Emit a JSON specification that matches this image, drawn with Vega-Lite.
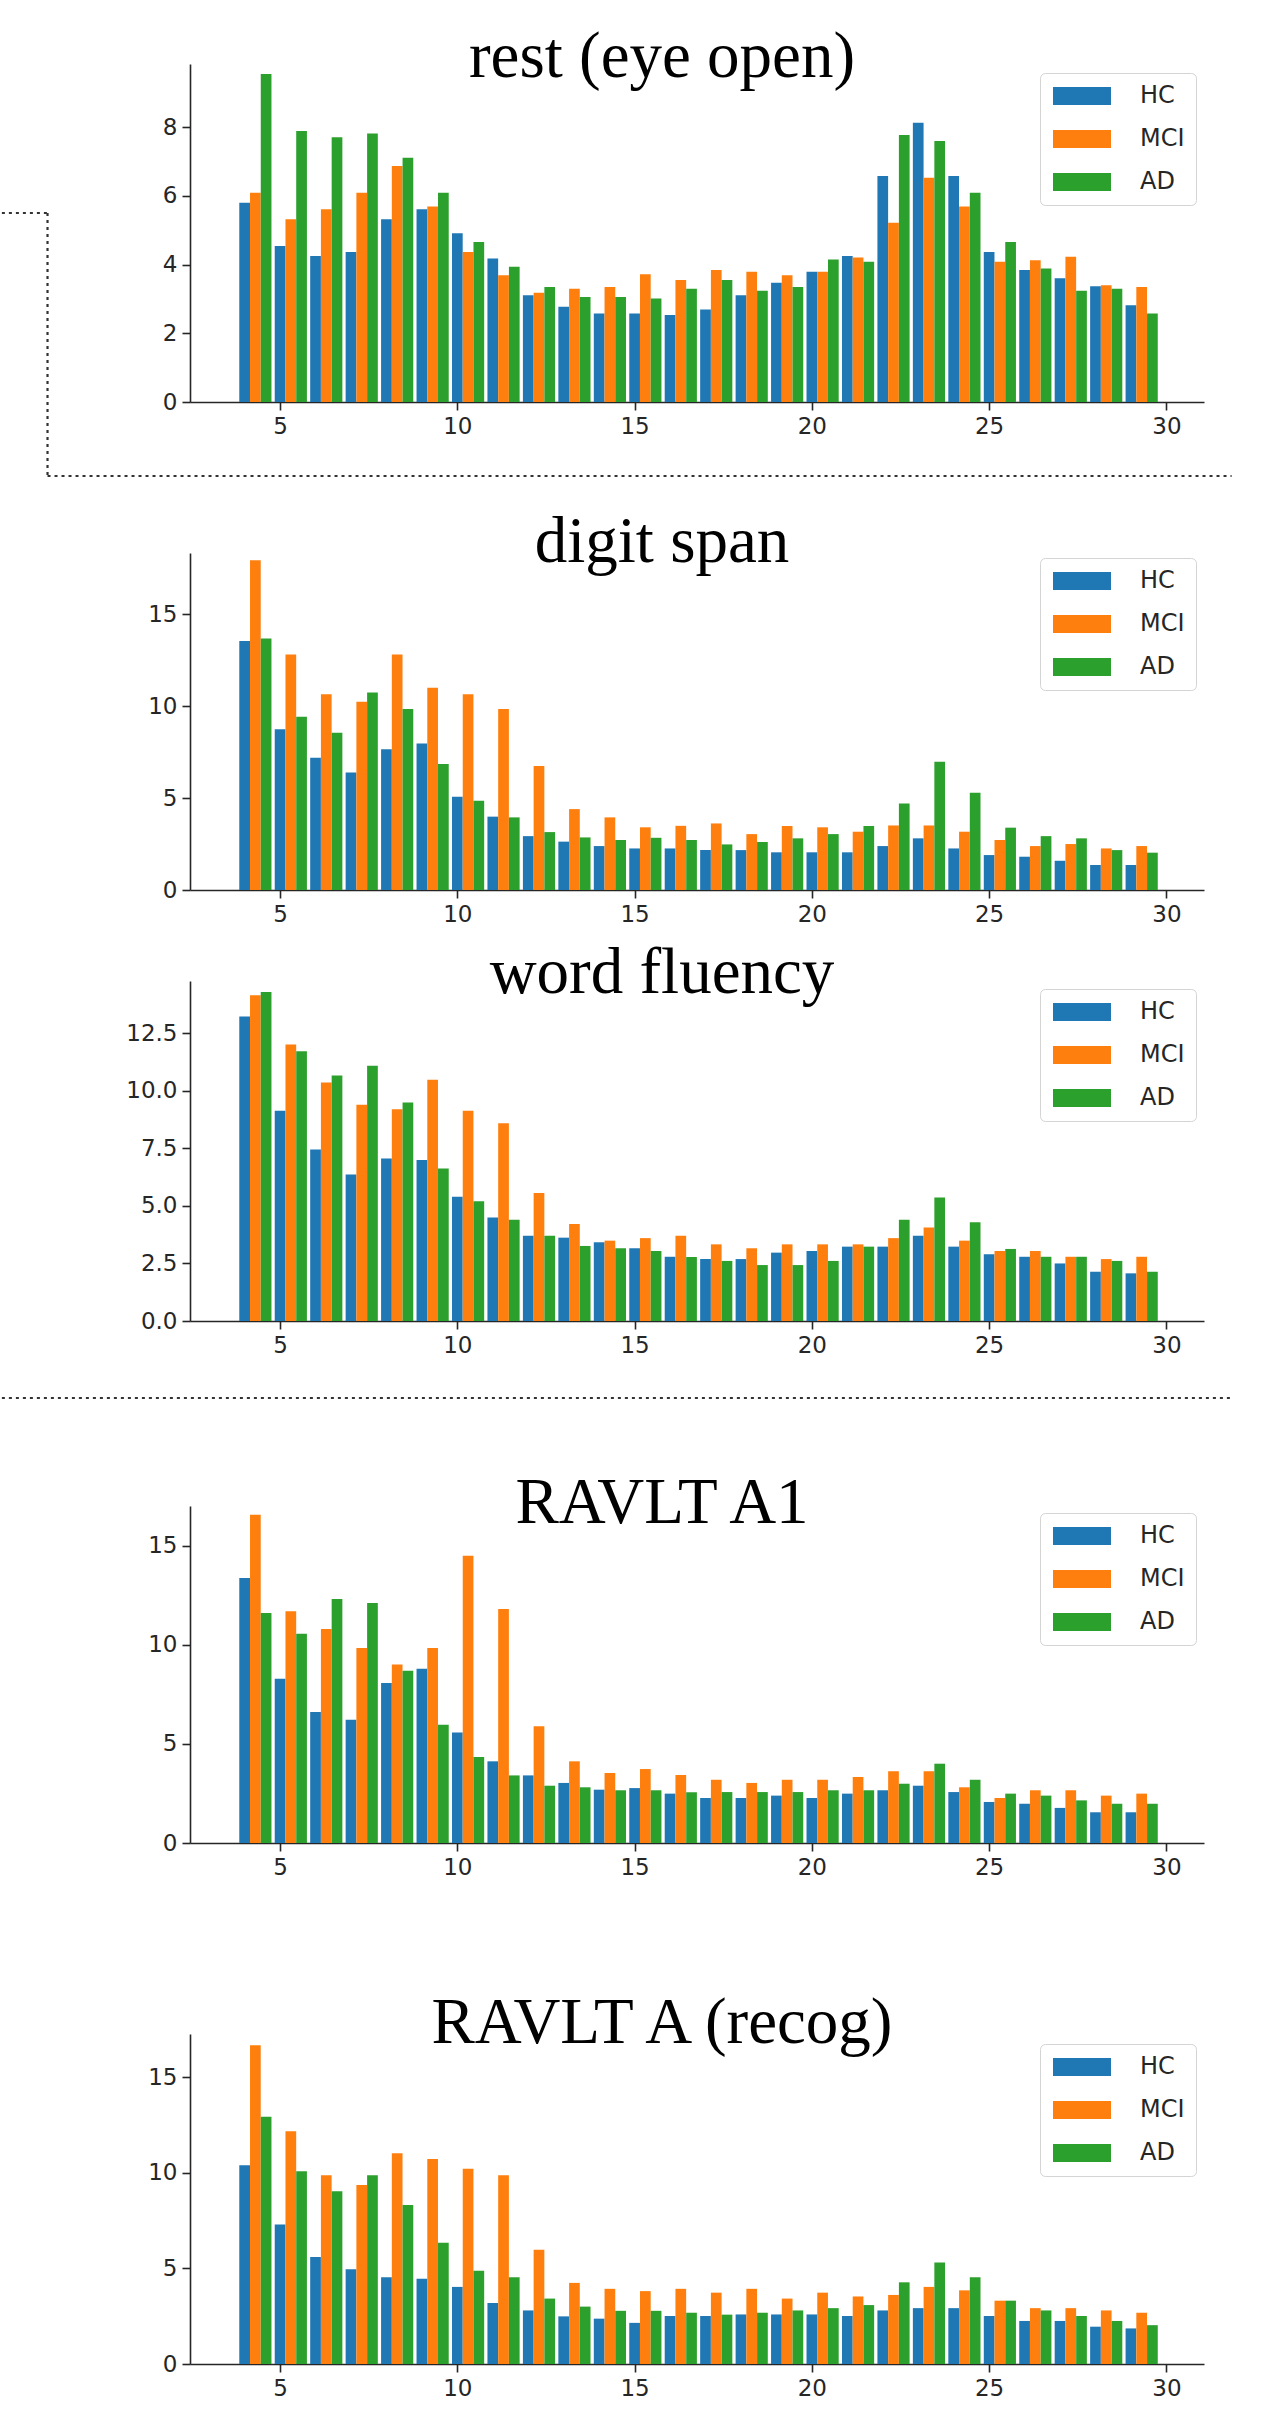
{
  "$schema": "https://vega.github.io/schema/vega-lite/v6.json",
  "padding": 0,
  "autosize": {"type": "pad"},
  "background": "white",
  "config": {
    "view": {"stroke": null},
    "axis": {"grid": false, "domainColor": "#262626", "tickColor": "#262626", "labelColor": "#262626", "domainWidth": 1.6, "tickWidth": 1.6, "tickSize": 8, "labelFont": "DejaVu Sans", "labelFontSize": 23, "labelPadding": 5, "title": null, "labelFlush": false},
    "legend": {"orient": "none", "title": null, "symbolType": "M-1,-0.9L4.8,-0.9L4.8,0.9L-1,0.9Z", "symbolSize": 400, "symbolStrokeWidth": 0, "labelFont": "DejaVu Sans", "labelFontSize": 24, "labelColor": "#262626", "labelOffset": 65, "padding": 11, "rowPadding": 19, "strokeColor": "#d4d4d4", "fillColor": "rgba(255,255,255,0.85)", "cornerRadius": 5, "legendX": 850},
    "title": {"font": "Liberation Serif", "fontSize": 65, "fontWeight": "normal", "color": "black", "baseline": "bottom", "frame": "group", "anchor": "middle", "dx": -35}
  },
  "datasets": {
    "d": [
      {"p":"rest","f":4,"HC":5.80,"MCI":6.09,"AD":9.55},
      {"p":"rest","f":5,"HC":4.54,"MCI":5.32,"AD":7.89},
      {"p":"rest","f":6,"HC":4.25,"MCI":5.61,"AD":7.71},
      {"p":"rest","f":7,"HC":4.37,"MCI":6.09,"AD":7.82},
      {"p":"rest","f":8,"HC":5.32,"MCI":6.87,"AD":7.11},
      {"p":"rest","f":9,"HC":5.61,"MCI":5.69,"AD":6.09},
      {"p":"rest","f":10,"HC":4.91,"MCI":4.37,"AD":4.66},
      {"p":"rest","f":11,"HC":4.18,"MCI":3.69,"AD":3.94},
      {"p":"rest","f":12,"HC":3.11,"MCI":3.18,"AD":3.35},
      {"p":"rest","f":13,"HC":2.77,"MCI":3.30,"AD":3.06},
      {"p":"rest","f":14,"HC":2.58,"MCI":3.35,"AD":3.06},
      {"p":"rest","f":15,"HC":2.58,"MCI":3.72,"AD":3.01},
      {"p":"rest","f":16,"HC":2.53,"MCI":3.55,"AD":3.30},
      {"p":"rest","f":17,"HC":2.69,"MCI":3.84,"AD":3.55},
      {"p":"rest","f":18,"HC":3.11,"MCI":3.79,"AD":3.24},
      {"p":"rest","f":19,"HC":3.47,"MCI":3.69,"AD":3.35},
      {"p":"rest","f":20,"HC":3.79,"MCI":3.79,"AD":4.15},
      {"p":"rest","f":21,"HC":4.25,"MCI":4.21,"AD":4.08},
      {"p":"rest","f":22,"HC":6.58,"MCI":5.22,"AD":7.77},
      {"p":"rest","f":23,"HC":8.13,"MCI":6.53,"AD":7.60},
      {"p":"rest","f":24,"HC":6.58,"MCI":5.69,"AD":6.09},
      {"p":"rest","f":25,"HC":4.37,"MCI":4.08,"AD":4.66},
      {"p":"rest","f":26,"HC":3.84,"MCI":4.13,"AD":3.89},
      {"p":"rest","f":27,"HC":3.60,"MCI":4.23,"AD":3.24},
      {"p":"rest","f":28,"HC":3.37,"MCI":3.40,"AD":3.30},
      {"p":"rest","f":29,"HC":2.82,"MCI":3.35,"AD":2.58},
      {"p":"digit","f":4,"HC":13.55,"MCI":17.93,"AD":13.68},
      {"p":"digit","f":5,"HC":8.75,"MCI":12.81,"AD":9.42},
      {"p":"digit","f":6,"HC":7.19,"MCI":10.65,"AD":8.55},
      {"p":"digit","f":7,"HC":6.39,"MCI":10.24,"AD":10.74},
      {"p":"digit","f":8,"HC":7.66,"MCI":12.81,"AD":9.84},
      {"p":"digit","f":9,"HC":7.97,"MCI":11.0,"AD":6.85},
      {"p":"digit","f":10,"HC":5.07,"MCI":10.65,"AD":4.86},
      {"p":"digit","f":11,"HC":3.99,"MCI":9.84,"AD":3.95},
      {"p":"digit","f":12,"HC":2.93,"MCI":6.74,"AD":3.15},
      {"p":"digit","f":13,"HC":2.63,"MCI":4.40,"AD":2.86},
      {"p":"digit","f":14,"HC":2.39,"MCI":3.95,"AD":2.72},
      {"p":"digit","f":15,"HC":2.26,"MCI":3.41,"AD":2.84},
      {"p":"digit","f":16,"HC":2.26,"MCI":3.49,"AD":2.72},
      {"p":"digit","f":17,"HC":2.17,"MCI":3.62,"AD":2.48},
      {"p":"digit","f":18,"HC":2.17,"MCI":3.04,"AD":2.61},
      {"p":"digit","f":19,"HC":2.05,"MCI":3.48,"AD":2.81},
      {"p":"digit","f":20,"HC":2.05,"MCI":3.41,"AD":3.04},
      {"p":"digit","f":21,"HC":2.05,"MCI":3.17,"AD":3.48},
      {"p":"digit","f":22,"HC":2.39,"MCI":3.51,"AD":4.71},
      {"p":"digit","f":23,"HC":2.81,"MCI":3.51,"AD":6.97},
      {"p":"digit","f":24,"HC":2.26,"MCI":3.17,"AD":5.29},
      {"p":"digit","f":25,"HC":1.90,"MCI":2.72,"AD":3.39},
      {"p":"digit","f":26,"HC":1.81,"MCI":2.39,"AD":2.93},
      {"p":"digit","f":27,"HC":1.59,"MCI":2.50,"AD":2.81},
      {"p":"digit","f":28,"HC":1.36,"MCI":2.26,"AD":2.17},
      {"p":"digit","f":29,"HC":1.36,"MCI":2.39,"AD":2.03},
      {"p":"word","f":4,"HC":13.23,"MCI":14.15,"AD":14.29},
      {"p":"word","f":5,"HC":9.13,"MCI":12.01,"AD":11.72},
      {"p":"word","f":6,"HC":7.45,"MCI":10.36,"AD":10.66},
      {"p":"word","f":7,"HC":6.36,"MCI":9.39,"AD":11.09},
      {"p":"word","f":8,"HC":7.06,"MCI":9.20,"AD":9.49},
      {"p":"word","f":9,"HC":6.99,"MCI":10.48,"AD":6.62},
      {"p":"word","f":10,"HC":5.40,"MCI":9.13,"AD":5.20},
      {"p":"word","f":11,"HC":4.50,"MCI":8.59,"AD":4.40},
      {"p":"word","f":12,"HC":3.70,"MCI":5.56,"AD":3.70},
      {"p":"word","f":13,"HC":3.62,"MCI":4.21,"AD":3.26},
      {"p":"word","f":14,"HC":3.42,"MCI":3.49,"AD":3.16},
      {"p":"word","f":15,"HC":3.16,"MCI":3.60,"AD":3.04},
      {"p":"word","f":16,"HC":2.79,"MCI":3.70,"AD":2.78},
      {"p":"word","f":17,"HC":2.69,"MCI":3.33,"AD":2.61},
      {"p":"word","f":18,"HC":2.69,"MCI":3.16,"AD":2.43},
      {"p":"word","f":19,"HC":2.97,"MCI":3.33,"AD":2.43},
      {"p":"word","f":20,"HC":3.04,"MCI":3.33,"AD":2.61},
      {"p":"word","f":21,"HC":3.23,"MCI":3.33,"AD":3.23},
      {"p":"word","f":22,"HC":3.23,"MCI":3.60,"AD":4.40},
      {"p":"word","f":23,"HC":3.70,"MCI":4.06,"AD":5.37},
      {"p":"word","f":24,"HC":3.23,"MCI":3.49,"AD":4.29},
      {"p":"word","f":25,"HC":2.90,"MCI":3.04,"AD":3.13},
      {"p":"word","f":26,"HC":2.79,"MCI":3.04,"AD":2.79},
      {"p":"word","f":27,"HC":2.50,"MCI":2.79,"AD":2.79},
      {"p":"word","f":28,"HC":2.14,"MCI":2.69,"AD":2.61},
      {"p":"word","f":29,"HC":2.07,"MCI":2.79,"AD":2.14},
      {"p":"a1","f":4,"HC":13.37,"MCI":16.56,"AD":11.60},
      {"p":"a1","f":5,"HC":8.29,"MCI":11.69,"AD":10.56},
      {"p":"a1","f":6,"HC":6.61,"MCI":10.80,"AD":12.31},
      {"p":"a1","f":7,"HC":6.22,"MCI":9.84,"AD":12.11},
      {"p":"a1","f":8,"HC":8.07,"MCI":9.00,"AD":8.69},
      {"p":"a1","f":9,"HC":8.79,"MCI":9.84,"AD":5.97},
      {"p":"a1","f":10,"HC":5.58,"MCI":14.49,"AD":4.34},
      {"p":"a1","f":11,"HC":4.12,"MCI":11.80,"AD":3.41},
      {"p":"a1","f":12,"HC":3.41,"MCI":5.89,"AD":2.89},
      {"p":"a1","f":13,"HC":3.03,"MCI":4.12,"AD":2.81},
      {"p":"a1","f":14,"HC":2.69,"MCI":3.53,"AD":2.66},
      {"p":"a1","f":15,"HC":2.77,"MCI":3.73,"AD":2.66},
      {"p":"a1","f":16,"HC":2.49,"MCI":3.43,"AD":2.56},
      {"p":"a1","f":17,"HC":2.27,"MCI":3.19,"AD":2.57},
      {"p":"a1","f":18,"HC":2.27,"MCI":3.03,"AD":2.57},
      {"p":"a1","f":19,"HC":2.39,"MCI":3.19,"AD":2.57},
      {"p":"a1","f":20,"HC":2.27,"MCI":3.19,"AD":2.66},
      {"p":"a1","f":21,"HC":2.49,"MCI":3.33,"AD":2.66},
      {"p":"a1","f":22,"HC":2.66,"MCI":3.62,"AD":2.99},
      {"p":"a1","f":23,"HC":2.89,"MCI":3.62,"AD":4.00},
      {"p":"a1","f":24,"HC":2.57,"MCI":2.81,"AD":3.19},
      {"p":"a1","f":25,"HC":2.07,"MCI":2.27,"AD":2.49},
      {"p":"a1","f":26,"HC":1.98,"MCI":2.66,"AD":2.39},
      {"p":"a1","f":27,"HC":1.77,"MCI":2.66,"AD":2.15},
      {"p":"a1","f":28,"HC":1.55,"MCI":2.39,"AD":1.98},
      {"p":"a1","f":29,"HC":1.55,"MCI":2.49,"AD":1.98},
      {"p":"recog","f":4,"HC":10.39,"MCI":16.66,"AD":12.92},
      {"p":"recog","f":5,"HC":7.29,"MCI":12.17,"AD":10.08},
      {"p":"recog","f":6,"HC":5.59,"MCI":9.86,"AD":9.03},
      {"p":"recog","f":7,"HC":4.95,"MCI":9.36,"AD":9.86},
      {"p":"recog","f":8,"HC":4.54,"MCI":11.02,"AD":8.31},
      {"p":"recog","f":9,"HC":4.46,"MCI":10.71,"AD":6.34},
      {"p":"recog","f":10,"HC":4.03,"MCI":10.20,"AD":4.88},
      {"p":"recog","f":11,"HC":3.19,"MCI":9.86,"AD":4.54},
      {"p":"recog","f":12,"HC":2.80,"MCI":5.97,"AD":3.42},
      {"p":"recog","f":13,"HC":2.49,"MCI":4.24,"AD":3.00},
      {"p":"recog","f":14,"HC":2.37,"MCI":3.93,"AD":2.78},
      {"p":"recog","f":15,"HC":2.15,"MCI":3.81,"AD":2.78},
      {"p":"recog","f":16,"HC":2.51,"MCI":3.93,"AD":2.68},
      {"p":"recog","f":17,"HC":2.51,"MCI":3.73,"AD":2.58},
      {"p":"recog","f":18,"HC":2.59,"MCI":3.93,"AD":2.68},
      {"p":"recog","f":19,"HC":2.59,"MCI":3.42,"AD":2.80},
      {"p":"recog","f":20,"HC":2.59,"MCI":3.73,"AD":2.92},
      {"p":"recog","f":21,"HC":2.51,"MCI":3.53,"AD":3.08},
      {"p":"recog","f":22,"HC":2.80,"MCI":3.61,"AD":4.27},
      {"p":"recog","f":23,"HC":2.92,"MCI":4.03,"AD":5.31},
      {"p":"recog","f":24,"HC":2.92,"MCI":3.85,"AD":4.54},
      {"p":"recog","f":25,"HC":2.51,"MCI":3.31,"AD":3.31},
      {"p":"recog","f":26,"HC":2.25,"MCI":2.92,"AD":2.80},
      {"p":"recog","f":27,"HC":2.25,"MCI":2.92,"AD":2.51},
      {"p":"recog","f":28,"HC":1.95,"MCI":2.80,"AD":2.25},
      {"p":"recog","f":29,"HC":1.86,"MCI":2.68,"AD":2.03}
    ]
  },
  "spacing": 0,
  "bounds": "flush",
  "resolve": {"scale": {"color": "independent"}},
  "vconcat": [
    {
      "width": 1014, "height": 402,
      "title": {"text": "rest (eye open)", "offset": -91},
      "transform": [{"filter": "datum.p === 'rest'"}, {"fold": ["HC","MCI","AD"], "as": ["group","value"]}],
      "data": {"name": "d"},
      "layer": [
        {
          "mark": {"type": "bar", "orient": "vertical", "width": 10.7, "xOffset": {"expr": "datum.group === 'HC' ? 0 : datum.group === 'MCI' ? 10.74 : 21.48"}},
          "encoding": {
            "x": {"field": "f", "type": "quantitative", "scale": {"domain": [2.6, 30.92], "nice": false, "zero": false}, "axis": {"values": [5,10,15,20,25,30]}},
            "y": {"field": "value", "type": "quantitative", "stack": null, "scale": {"domain": [0, 9.84], "range": [402, 64], "nice": false}, "axis": {"values": [0,2,4,6,8]}},
            "color": {"field": "group", "type": "nominal", "scale": {"domain": ["HC","MCI","AD"], "range": ["#1f77b4","#ff7f0e","#2ca02c"]}, "legend": {"legendY": 73}}
          }
        },
        {"mark": {"type": "rule", "strokeDash": [3,4], "strokeWidth": 2.2, "color": "#333333", "clip": false}, "transform": [{"filter": "datum.f === 4 && datum.group === 'HC'"}], "encoding": {"x": {"datum": -2.847}, "x2": {"datum": -1.56}, "y": {"datum": 5.502}}},
        {"mark": {"type": "rule", "strokeDash": [3,4], "strokeWidth": 2.2, "color": "#333333", "clip": false}, "transform": [{"filter": "datum.f === 4 && datum.group === 'HC'"}], "encoding": {"x": {"datum": -1.56}, "y": {"datum": 5.502}, "y2": {"datum": -2.154}}},
        {"mark": {"type": "rule", "strokeDash": [3,4], "strokeWidth": 2.2, "color": "#333333", "clip": false}, "transform": [{"filter": "datum.f === 4 && datum.group === 'HC'"}], "encoding": {"x": {"datum": -1.56}, "x2": {"datum": 31.84}, "y": {"datum": -2.154}}}
      ]
    },
    {
      "width": 1014, "height": 488,
      "title": {"text": "digit span", "offset": -174},
      "transform": [{"filter": "datum.p === 'digit'"}, {"fold": ["HC","MCI","AD"], "as": ["group","value"]}],
      "data": {"name": "d"},
      "mark": {"type": "bar", "orient": "vertical", "width": 10.7, "xOffset": {"expr": "datum.group === 'HC' ? 0 : datum.group === 'MCI' ? 10.74 : 21.48"}},
      "encoding": {
        "x": {"field": "f", "type": "quantitative", "scale": {"domain": [2.6, 30.92], "nice": false, "zero": false}, "axis": {"values": [5,10,15,20,25,30]}},
        "y": {"field": "value", "type": "quantitative", "stack": null, "scale": {"domain": [0, 18.33], "range": [488, 151], "nice": false}, "axis": {"values": [0,5,10,15]}},
        "color": {"field": "group", "type": "nominal", "scale": {"domain": ["HC","MCI","AD"], "range": ["#1f77b4","#ff7f0e","#2ca02c"]}, "legend": {"legendY": 156}}
      }
    },
    {
      "width": 1014, "height": 431,
      "title": {"text": "word fluency", "offset": -117},
      "transform": [{"filter": "datum.p === 'word'"}, {"fold": ["HC","MCI","AD"], "as": ["group","value"]}],
      "data": {"name": "d"},
      "layer": [
        {
          "mark": {"type": "bar", "orient": "vertical", "width": 10.7, "xOffset": {"expr": "datum.group === 'HC' ? 0 : datum.group === 'MCI' ? 10.74 : 21.48"}},
          "encoding": {
            "x": {"field": "f", "type": "quantitative", "scale": {"domain": [2.6, 30.92], "nice": false, "zero": false}, "axis": {"values": [5,10,15,20,25,30]}},
            "y": {"field": "value", "type": "quantitative", "stack": null, "scale": {"domain": [0, 14.77], "range": [431, 91], "nice": false}, "axis": {"values": [0,2.5,5,7.5,10,12.5], "format": ".1f"}},
            "color": {"field": "group", "type": "nominal", "scale": {"domain": ["HC","MCI","AD"], "range": ["#1f77b4","#ff7f0e","#2ca02c"]}, "legend": {"legendY": 99}}
          }
        },
        {"mark": {"type": "rule", "strokeDash": [3,4], "strokeWidth": 2.2, "color": "#333333", "clip": false}, "transform": [{"filter": "datum.f === 4 && datum.group === 'HC'"}], "encoding": {"x": {"datum": -2.847}, "x2": {"datum": 31.84}, "y": {"datum": -3.345}}}
      ]
    },
    {
      "width": 1014, "height": 522,
      "title": {"text": "RAVLT A1", "offset": -216},
      "transform": [{"filter": "datum.p === 'a1'"}, {"fold": ["HC","MCI","AD"], "as": ["group","value"]}],
      "data": {"name": "d"},
      "mark": {"type": "bar", "orient": "vertical", "width": 10.7, "xOffset": {"expr": "datum.group === 'HC' ? 0 : datum.group === 'MCI' ? 10.74 : 21.48"}},
      "encoding": {
        "x": {"field": "f", "type": "quantitative", "scale": {"domain": [2.6, 30.92], "nice": false, "zero": false}, "axis": {"values": [5,10,15,20,25,30]}},
        "y": {"field": "value", "type": "quantitative", "stack": null, "scale": {"domain": [0, 17.0], "range": [522, 185], "nice": false}, "axis": {"values": [0,5,10,15]}},
        "color": {"field": "group", "type": "nominal", "scale": {"domain": ["HC","MCI","AD"], "range": ["#1f77b4","#ff7f0e","#2ca02c"]}, "legend": {"legendY": 192}}
      }
    },
    {
      "width": 1014, "height": 521,
      "title": {"text": "RAVLT A (recog)", "offset": -214},
      "transform": [{"filter": "datum.p === 'recog'"}, {"fold": ["HC","MCI","AD"], "as": ["group","value"]}],
      "data": {"name": "d"},
      "mark": {"type": "bar", "orient": "vertical", "width": 10.7, "xOffset": {"expr": "datum.group === 'HC' ? 0 : datum.group === 'MCI' ? 10.74 : 21.48"}},
      "encoding": {
        "x": {"field": "f", "type": "quantitative", "scale": {"domain": [2.6, 30.92], "nice": false, "zero": false}, "axis": {"values": [5,10,15,20,25,30]}},
        "y": {"field": "value", "type": "quantitative", "stack": null, "scale": {"domain": [0, 17.25], "range": [521, 191], "nice": false}, "axis": {"values": [0,5,10,15]}},
        "color": {"field": "group", "type": "nominal", "scale": {"domain": ["HC","MCI","AD"], "range": ["#1f77b4","#ff7f0e","#2ca02c"]}, "legend": {"legendY": 201}}
      }
    }
  ]
}
